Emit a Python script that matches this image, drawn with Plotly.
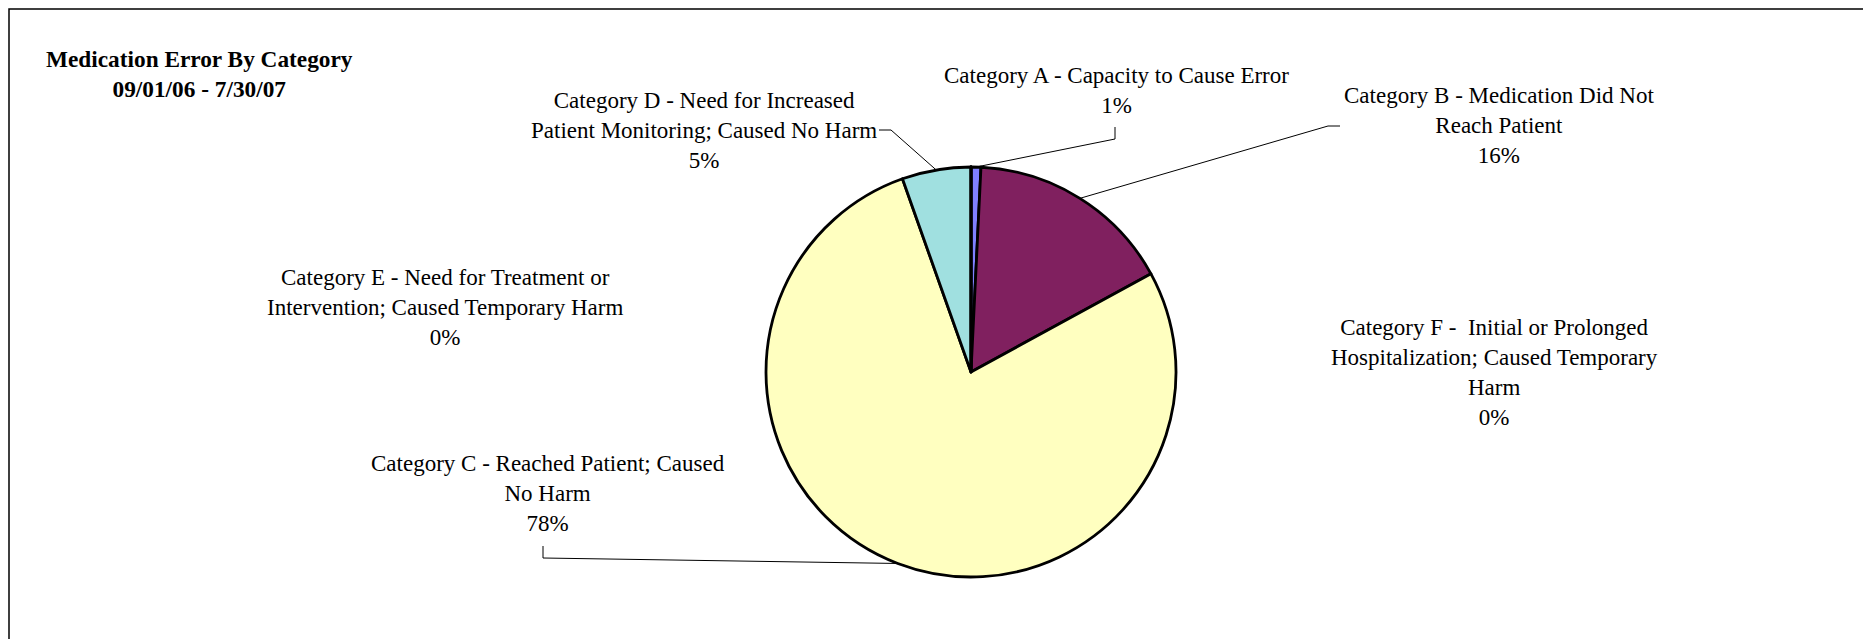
import math
import plotly.graph_objects as go

# ---- data ----
categories = [
    "Category A - Capacity to Cause Error",
    "Category B - Medication Did Not<br>Reach Patient",
    "Category C - Reached Patient; Caused<br>No Harm",
    "Category D - Need for Increased<br>Patient Monitoring; Caused No Harm",
    "Category E - Need for Treatment or<br>Intervention; Caused Temporary Harm",
    "Category F - \u00a0Initial or Prolonged<br>Hospitalization; Caused Temporary<br>Harm",
]
counts = [1, 21, 100, 7, 0, 0]
colors = ["#8080FF", "#80205F", "#FFFFC0", "#A0E0E0", "#660066", "#FF8080"]

title_lines = ["Medication Error By Category", "09/01/06 - 7/30/07"]

# ---- layout (pixels, page coords; page body has an 8px margin) ----
W, H = 1871, 639
OFF = 8
cx, cy, r = 971 - OFF, 372 - OFF, 205
FONT = "Liberation Serif, Times New Roman, serif"
FS = 23


def p(x, y):
    return (x - OFF, y - OFF)


label_pos = [p(1116, 90), p(1499, 125.5), p(548, 493.5), p(704, 130), p(445, 307), p(1494, 372)]
leader_elbows = [
    [p(1115, 139), p(1115, 127)],
    [p(1328, 126), p(1340, 126)],
    [p(543, 558), p(543, 546)],
    [p(891, 130), p(879, 130)],
    None,
    None,
]

total = sum(counts)
pcts = [v / total for v in counts]

fig = go.Figure()

cum = 0.0
for i, v in enumerate(counts):
    mid = (cum + v / 2) / total
    cum += v
    if leader_elbows[i] is None:
        continue
    th = 2 * math.pi * mid
    sx = cx + r * math.sin(th)
    sy = cy - r * math.cos(th)
    xs = [sx] + [q[0] for q in leader_elbows[i]]
    ys = [sy] + [q[1] for q in leader_elbows[i]]
    fig.add_trace(go.Scatter(x=xs, y=ys, mode="lines",
                             line=dict(color="black", width=1),
                             hoverinfo="skip", showlegend=False))

fig.add_trace(go.Pie(
    labels=categories, values=counts, sort=False, direction="clockwise",
    rotation=0, textinfo="none", hoverinfo="label+percent",
    marker=dict(colors=colors, line=dict(color="black", width=2.8)),
    domain=dict(x=[(cx - r) / W, (cx + r) / W],
                y=[(H - cy - r) / H, (H - cy + r) / H]),
    showlegend=False,
))

annotations = []
for (lx, ly), cat, pc in zip(label_pos, categories, pcts):
    annotations.append(dict(
        x=lx, y=ly, xref="x", yref="y", xanchor="center", yanchor="middle",
        text=f"{cat}<br>{round(pc * 100):.0f}%", showarrow=False, align="center",
        font=dict(family=FONT, size=FS, color="black")))

tx, ty = p(199, 73.5)
annotations.append(dict(
    x=tx, y=ty, xref="x", yref="y", xanchor="center", yanchor="middle",
    text="<b>" + "<br>".join(title_lines) + "</b>", showarrow=False, align="center",
    font=dict(family=FONT, size=FS + 0.3, color="black")))

bx0, by0 = p(8, 5)
bx1, by1 = p(1866, 660)
fig.update_layout(
    width=W, height=H,
    margin=dict(l=0, r=0, t=0, b=0),
    paper_bgcolor="white", plot_bgcolor="white",
    xaxis=dict(range=[0, W], visible=False, fixedrange=True, domain=[0, 1]),
    yaxis=dict(range=[H, 0], visible=False, fixedrange=True, domain=[0, 1]),
    annotations=annotations,
    shapes=[dict(type="rect", xref="x", yref="y", x0=max(bx0, 1), x1=bx1, y0=max(by0, 1), y1=by1,
                 line=dict(color="black", width=1.5), fillcolor="rgba(0,0,0,0)")],
)

fig.write_html("out.html")
